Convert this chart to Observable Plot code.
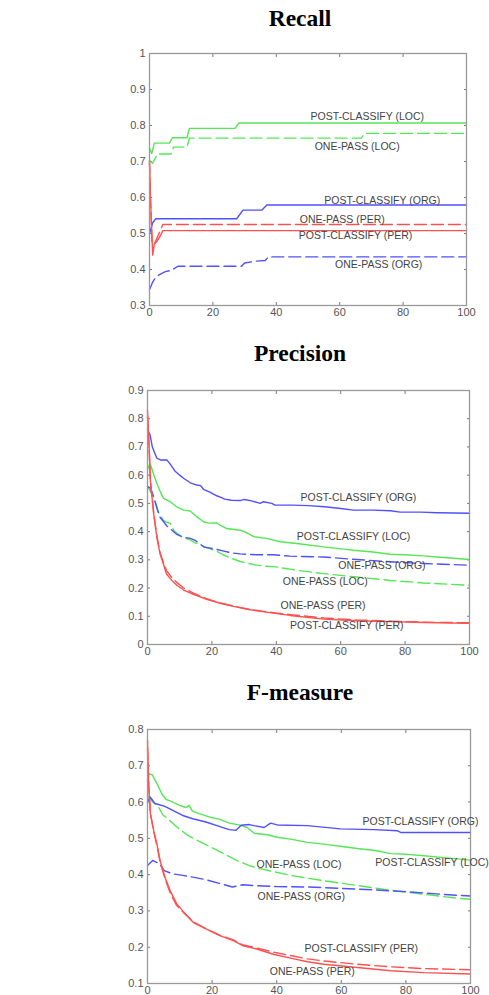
<!DOCTYPE html>
<html><head><meta charset="utf-8">
<script src="https://cdn.jsdelivr.net/npm/d3@7"></script>
<script src="https://cdn.jsdelivr.net/npm/@observablehq/plot@0.6"></script>
<style>
body{margin:0;background:#fff;width:489px;height:995px;overflow:hidden;position:relative;font-family:"Liberation Sans",Arial,sans-serif}
.title{position:absolute;left:150px;width:300px;text-align:center;font-family:"Liberation Serif","Times New Roman",serif;font-weight:bold;font-size:23.5px;line-height:23.5px;color:#000}
.panel{position:absolute;left:0}
</style></head><body>
<div class="title" style="top:7px">Recall</div>
<div class="title" style="top:342px">Precision</div>
<div class="title" style="top:681px">F-measure</div>
<div class="panel" id="p1" style="top:40px"></div>
<div class="panel" id="p2" style="top:370px"></div>
<div class="panel" id="p3" style="top:710px"></div>
<script>
// ---------- shared ----------
const xTicks = [0, 20, 40, 60, 80, 100];
const colGreen = "#55e655", colBlue = "#5050ff", colRed = "#ff5050";

// ---------- Recall ----------
const recallYTicks = [0.3, 0.4, 0.5, 0.6, 0.7, 0.8, 0.9, 1.0];
const recPostLocX = [0, 0.7, 1.5, 6.3, 7.2, 11.8, 12.6, 27, 28.2, 100];
const recPostLocY = [0.737, 0.722, 0.751, 0.751, 0.766, 0.766, 0.792, 0.792, 0.807, 0.807];
const recOneLocX = [0, 1, 2.5, 6.8, 7.6, 11.8, 12.6, 66.8, 67.8, 100];
const recOneLocY = [0.703, 0.695, 0.721, 0.721, 0.740, 0.740, 0.765, 0.765, 0.778, 0.778];
const recPostOrgX = [0, 0.5, 1, 2, 27.5, 29.5, 35.5, 37, 100];
const recPostOrgY = [0.50, 0.515, 0.53, 0.541, 0.541, 0.565, 0.565, 0.579, 0.579];
const recOneOrgX = [0, 1, 2, 3, 5, 7, 9, 29, 30, 33.5, 36.5, 37.5, 100];
const recOneOrgY = [0.344, 0.365, 0.379, 0.385, 0.394, 0.398, 0.409, 0.409, 0.418, 0.423, 0.425, 0.435, 0.435];
const recOnePerX = [0, 0.3, 0.8, 1.5, 2.5, 3.5, 4.2, 100];
const recOnePerY = [0.70, 0.60, 0.475, 0.47, 0.49, 0.51, 0.525, 0.525];
const recPostPerX = [0, 0.3, 1, 1.5, 2.5, 3.5, 4.2, 100];
const recPostPerY = [0.70, 0.60, 0.44, 0.47, 0.48, 0.495, 0.508, 0.508];
const recLabelText = ["POST-CLASSIFY (LOC)", "ONE-PASS (LOC)", "POST-CLASSIFY (ORG)", "ONE-PASS (PER)", "POST-CLASSIFY (PER)", "ONE-PASS (ORG)"];
const recLabelX = [68.7, 65.5, 73.4, 60.8, 65, 72.3];
const recLabelY = [0.825, 0.742, 0.592, 0.539, 0.494, 0.414];

// ---------- Precision ----------
const precYTicks = [0, 0.1, 0.2, 0.3, 0.4, 0.5, 0.6, 0.7, 0.8, 0.9];
const precPostOrgX = [0, 0.8, 1.5, 2.9, 4, 6, 7, 8.5, 10, 11.2, 13.3, 15.3, 16.5, 17.4, 19.5, 21.5, 22.6, 24, 26, 28.8, 30, 32, 35, 36, 38.6, 39.6, 45, 50, 55, 60, 64, 70, 75.4, 78.5, 85, 90, 100];
const precPostOrgY = [0.76, 0.743, 0.70, 0.66, 0.654, 0.654, 0.64, 0.615, 0.60, 0.589, 0.573, 0.565, 0.563, 0.55, 0.539, 0.527, 0.522, 0.515, 0.511, 0.51, 0.514, 0.51, 0.50, 0.506, 0.50, 0.494, 0.494, 0.492, 0.488, 0.482, 0.476, 0.476, 0.474, 0.469, 0.469, 0.467, 0.465];
const precPostLocX = [0, 0.8, 2, 2.9, 4, 5, 7, 9.1, 11.2, 13.3, 15.3, 17.4, 19, 21.5, 23, 24.6, 28.8, 31, 33, 37, 41.2, 46.4, 54.7, 61, 64, 70, 75.4, 80, 85.7, 90, 100];
const precPostLocY = [0.62, 0.642, 0.60, 0.571, 0.54, 0.518, 0.506, 0.488, 0.476, 0.473, 0.453, 0.435, 0.43, 0.431, 0.42, 0.411, 0.405, 0.395, 0.382, 0.376, 0.364, 0.358, 0.346, 0.338, 0.334, 0.328, 0.32, 0.318, 0.314, 0.31, 0.301];
const precOneOrgX = [0, 1, 2, 3, 3.9, 5, 6, 7.7, 9.1, 11.2, 13.3, 14.8, 17.6, 20.7, 23.7, 26, 28.8, 34, 39, 44.3, 54.7, 65, 75.4, 85.7, 100];
const precOneOrgY = [0.56, 0.553, 0.52, 0.48, 0.451, 0.435, 0.42, 0.404, 0.39, 0.38, 0.376, 0.369, 0.345, 0.339, 0.331, 0.325, 0.321, 0.318, 0.318, 0.313, 0.31, 0.301, 0.293, 0.287, 0.281];
const precOneLocX = [0, 2, 3.6, 5, 6, 7, 8.2, 9.1, 11.2, 13, 14.8, 17.4, 19.5, 21.5, 23.5, 25.7, 28.8, 33.5, 36, 40, 46.4, 54.7, 65, 75.4, 85.7, 100];
const precOneLocY = [0.56, 0.52, 0.463, 0.44, 0.433, 0.43, 0.404, 0.395, 0.377, 0.372, 0.36, 0.348, 0.339, 0.33, 0.318, 0.307, 0.294, 0.282, 0.278, 0.275, 0.263, 0.251, 0.239, 0.227, 0.218, 0.21];
const precPerX = [0, 0.5, 0.9, 1.9, 2.9, 3.9, 4.9, 5.9, 7.5, 9.1, 11.2, 14.3, 18.4, 22.6, 26.7, 31.9, 39, 44.3, 54.7, 65, 75.4, 85.7, 100];
const precPostPerY = [0.83, 0.70, 0.58, 0.464, 0.38, 0.321, 0.286, 0.25, 0.228, 0.21, 0.193, 0.178, 0.16, 0.146, 0.135, 0.123, 0.111, 0.103, 0.09, 0.084, 0.081, 0.078, 0.075];
const precOnePerY = [0.81, 0.70, 0.58, 0.47, 0.385, 0.325, 0.292, 0.262, 0.238, 0.22, 0.2, 0.182, 0.162, 0.147, 0.136, 0.124, 0.113, 0.106, 0.094, 0.087, 0.083, 0.079, 0.077];
const precLabelText = ["POST-CLASSIFY (ORG)", "POST-CLASSIFY (LOC)", "ONE-PASS (ORG)", "ONE-PASS (LOC)", "ONE-PASS (PER)", "POST-CLASSIFY (PER)"];
const precLabelX = [65.5, 64, 72.8, 55.2, 54.5, 61.9];
const precLabelY = [0.522, 0.383, 0.28, 0.224, 0.137, 0.066];

// ---------- F-measure ----------
const fYTicks = [0.1, 0.2, 0.3, 0.4, 0.5, 0.6, 0.7, 0.8];
const fPostLocX = [0, 0.5, 1.5, 3.1, 4.4, 5.8, 6.8, 7.8, 9.9, 11.9, 12.9, 13.9, 16, 19.1, 22.2, 25.3, 28.4, 30.9, 33, 37.1, 40.2, 44.3, 49.5, 54.6, 60.8, 65, 71.1, 75.3, 80.4, 85.6, 91.8, 100];
const fPostLocY = [0.66, 0.678, 0.675, 0.648, 0.623, 0.607, 0.604, 0.6, 0.591, 0.585, 0.591, 0.575, 0.568, 0.559, 0.553, 0.542, 0.537, 0.53, 0.514, 0.51, 0.503, 0.498, 0.489, 0.484, 0.477, 0.472, 0.466, 0.458, 0.456, 0.452, 0.447, 0.44];
const fPostOrgX = [0, 0.8, 2.3, 5.4, 7.8, 10.9, 14, 18.1, 22.2, 25.3, 27.4, 29, 31.5, 33, 36.1, 38.1, 40.2, 49.5, 59.8, 70.1, 77.3, 78.5, 100];
const fPostOrgY = [0.60, 0.614, 0.596, 0.588, 0.577, 0.563, 0.554, 0.545, 0.533, 0.524, 0.522, 0.536, 0.538, 0.535, 0.53, 0.542, 0.537, 0.535, 0.526, 0.524, 0.521, 0.516, 0.516];
const fOneOrgX = [0, 1.6, 3.7, 5.2, 7.8, 10.9, 14, 18.1, 22.2, 26.3, 29.4, 32.5, 40.2, 49.5, 59.8, 70.1, 80.4, 90.7, 100];
const fOneOrgY = [0.425, 0.439, 0.43, 0.411, 0.402, 0.398, 0.393, 0.386, 0.376, 0.366, 0.372, 0.37, 0.367, 0.366, 0.362, 0.358, 0.353, 0.346, 0.341];
const fOneLocX = [0, 1.6, 3.2, 4.7, 6.8, 9.9, 12.9, 16, 19.1, 23.2, 27.4, 31.5, 34.1, 39.2, 44.3, 54.6, 65, 75.3, 85.6, 95.9, 100];
const fOneLocY = [0.618, 0.6, 0.59, 0.565, 0.55, 0.525, 0.506, 0.492, 0.478, 0.46, 0.44, 0.425, 0.418, 0.408, 0.398, 0.383, 0.37, 0.357, 0.346, 0.335, 0.332];
const fPerX = [0, 0.4, 0.9, 1.9, 2.9, 3.9, 5.4, 7, 9, 11.1, 14.2, 18.3, 22.4, 26.6, 29.6, 33.8, 39.2, 44.3, 49.5, 54.6, 65, 75.3, 85.6, 100];
const fPostPerY = [0.77, 0.64, 0.568, 0.522, 0.485, 0.439, 0.393, 0.356, 0.32, 0.298, 0.268, 0.25, 0.232, 0.218, 0.204, 0.195, 0.18, 0.17, 0.16, 0.153, 0.144, 0.135, 0.13, 0.126];
const fOnePerY = [0.75, 0.64, 0.568, 0.52, 0.48, 0.435, 0.39, 0.35, 0.315, 0.296, 0.27, 0.25, 0.233, 0.22, 0.206, 0.198, 0.186, 0.177, 0.168, 0.162, 0.153, 0.146, 0.141, 0.138];
const fLabelText = ["POST-CLASSIFY (ORG)", "POST-CLASSIFY (LOC)", "ONE-PASS (LOC)", "ONE-PASS (ORG)", "POST-CLASSIFY (PER)", "ONE-PASS (PER)"];
const fLabelX = [84.5, 88.1, 46.9, 47.6, 66.2, 51];
const fLabelY = [0.547, 0.433, 0.428, 0.34, 0.195, 0.133];

// ---------- builders ----------
const pts = (xs, ys) => xs.map((x, i) => ({x, y: ys[i]}));
const labs = (t, xs, ys) => t.map((text, i) => ({text, x: xs[i], y: ys[i]}));
const fmt = d => String(+d.toFixed(1));

function panel(el, {height, mt, mb, ml, mr, yDomain, yTicks, series, labels}) {
  const marks = [
    Plot.axisX({ticks: xTicks, tickSize: 0, tickPadding: 3, fill: "#555", fontSize: 11, label: null, tickFormat: fmt}),
    Plot.axisY({ticks: yTicks, tickSize: 0, tickPadding: 4, fill: "#555", fontSize: 11, label: null, tickFormat: fmt}),
    Plot.axisX({ticks: xTicks, anchor: "bottom", tickSize: 3, dy: -3, tickFormat: () => "", label: null, stroke: "#777"}),
    Plot.axisX({ticks: xTicks, anchor: "top", tickSize: 3, dy: 3, tickFormat: () => "", label: null, stroke: "#777"}),
    Plot.axisY({ticks: yTicks, anchor: "left", tickSize: 3, dx: 3, tickFormat: () => "", label: null, stroke: "#777"}),
    Plot.axisY({ticks: yTicks, anchor: "right", tickSize: 3, dx: -3, tickFormat: () => "", label: null, stroke: "#777"}),
    ...series.map(s => Plot.line(s.data, {x: "x", y: "y", stroke: s.color, strokeWidth: 1.4, strokeDasharray: s.dash ? "12,5" : null})),
    Plot.frame({stroke: "#999", strokeWidth: 1.3}),
    Plot.text(labels, {x: "x", y: "y", text: "text", fill: "#444", fontSize: 10.5, fontFamily: "Liberation Sans, Arial, sans-serif", textAnchor: "middle"})
  ];
  const chart = Plot.plot({
    width: 489, height,
    marginTop: mt, marginBottom: mb, marginLeft: ml, marginRight: mr,
    x: {domain: [0, 100]},
    y: {domain: yDomain},
    style: {fontFamily: "Liberation Sans, Arial, sans-serif", background: "transparent", overflow: "visible"},
    marks
  });
  document.getElementById(el).appendChild(chart);
}

panel("p1", {
  height: 290, mt: 13, mb: 25, ml: 149, mr: 23, yDomain: [0.3, 1], yTicks: recallYTicks,
  series: [
    {data: pts(recPostLocX, recPostLocY), color: colGreen},
    {data: pts(recOneLocX, recOneLocY), color: colGreen, dash: true},
    {data: pts(recPostOrgX, recPostOrgY), color: colBlue},
    {data: pts(recOneOrgX, recOneOrgY), color: colBlue, dash: true},
    {data: pts(recPostPerX, recPostPerY), color: colRed},
    {data: pts(recOnePerX, recOnePerY), color: colRed, dash: true}
  ],
  labels: labs(recLabelText, recLabelX, recLabelY)
});

panel("p2", {
  height: 300, mt: 20, mb: 26, ml: 147, mr: 20, yDomain: [0, 0.9], yTicks: precYTicks,
  series: [
    {data: pts(precPostOrgX, precPostOrgY), color: colBlue},
    {data: pts(precPostLocX, precPostLocY), color: colGreen},
    {data: pts(precOneLocX, precOneLocY), color: colGreen, dash: true},
    {data: pts(precOneOrgX, precOneOrgY), color: colBlue, dash: true},
    {data: pts(precPerX, precPostPerY), color: colRed},
    {data: pts(precPerX, precOnePerY), color: colRed, dash: true}
  ],
  labels: labs(precLabelText, precLabelX, precLabelY)
});

panel("p3", {
  height: 285, mt: 19, mb: 12, ml: 147, mr: 19, yDomain: [0.1, 0.8], yTicks: fYTicks,
  series: [
    {data: pts(fPostLocX, fPostLocY), color: colGreen},
    {data: pts(fOneLocX, fOneLocY), color: colGreen, dash: true},
    {data: pts(fPostOrgX, fPostOrgY), color: colBlue},
    {data: pts(fOneOrgX, fOneOrgY), color: colBlue, dash: true},
    {data: pts(fPerX, fPostPerY), color: colRed},
    {data: pts(fPerX, fOnePerY), color: colRed, dash: true}
  ],
  labels: labs(fLabelText, fLabelX, fLabelY)
});
</script>
</body></html>
